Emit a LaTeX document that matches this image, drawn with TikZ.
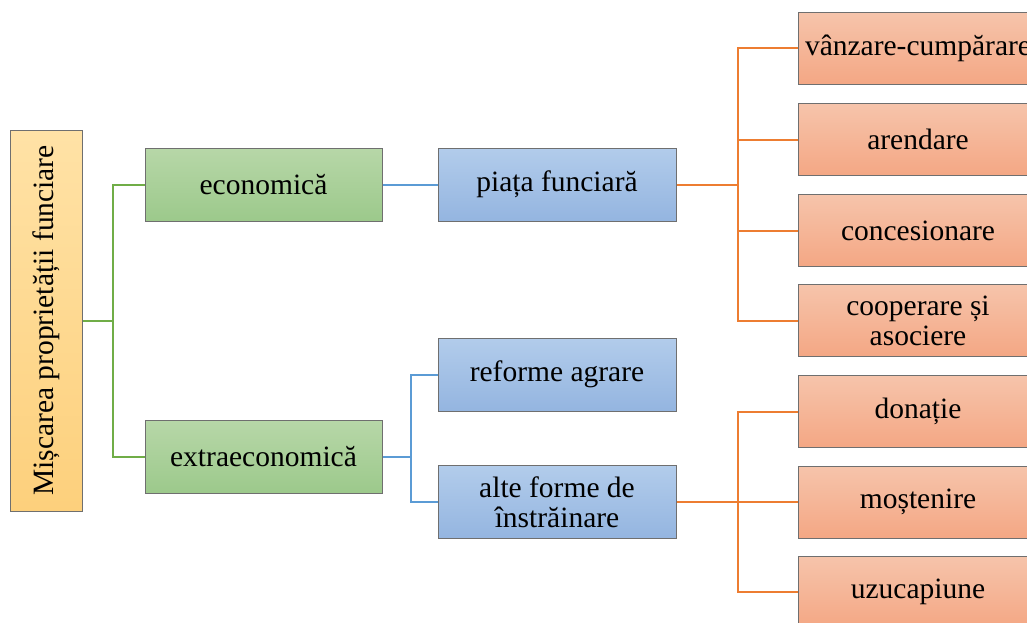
\documentclass[tikz,border=0pt]{standalone}
\usepackage{fontspec}
\setmainfont{Liberation Serif}
\definecolor{gtop}{HTML}{B7D7A8}
\definecolor{gbot}{HTML}{9CC98B}
\definecolor{btop}{HTML}{B2CCEB}
\definecolor{bbot}{HTML}{94B5E0}
\definecolor{otop}{HTML}{F6C4AB}
\definecolor{obot}{HTML}{F4A784}
\definecolor{ytop}{HTML}{FFE2A6}
\definecolor{ybot}{HTML}{FDD07C}
\definecolor{edge}{HTML}{6F6F6F}
\definecolor{lgreen}{HTML}{70AD47}
\definecolor{lblue}{HTML}{5B9BD5}
\definecolor{lorange}{HTML}{ED7D31}
\begin{document}
\begin{tikzpicture}[x=1pt,y=-1pt,
  box/.style={draw=edge,line width=1pt,rectangle,align=center,inner sep=2pt,
    font=\fontsize{29.5}{30}\selectfont},
  gbox/.style={box,top color=gtop,bottom color=gbot,minimum width=237pt,minimum height=73pt},
  bbox/.style={box,top color=btop,bottom color=bbot,minimum width=238pt,minimum height=73pt},
  obox/.style={box,top color=otop,bottom color=obot,minimum width=240pt,minimum height=72pt},
  ybox/.style={box,top color=ytop,bottom color=ybot,minimum width=72pt,minimum height=381pt},
  gline/.style={draw=lgreen,line width=2pt},
  bline/.style={draw=lblue,line width=2pt},
  oline/.style={draw=lorange,line width=2pt}]
\useasboundingbox (0,0) rectangle (1027,623);
% connectors first
\coordinate (j1) at (113,320.5);
\coordinate (j2) at (411,457);
\coordinate (j3) at (738,184.5);
\coordinate (j4) at (738,502);
\node[ybox] (root) at (46,320.5) {};
\node[rotate=90,font=\fontsize{29.5}{30}\selectfont] (roottext) at (root.center) {Mișcarea proprietății funciare};
\node[gbox] (econ) at (263.5,184.5) {economică};
\node[gbox] (extra) at (263.5,457) {extraeconomică};
\node[bbox] (piata) at (557,184.5) {piața funciară};
\node[bbox] (reforme) at (557,374.5) {reforme agrare};
\node[bbox] (alte) at (557,502) {alte forme de\\înstrăinare};
\node[obox] (vanz) at (918,48.5) {vânzare-cumpărare};
\node[obox] (arend) at (918,139.5) {arendare};
\node[obox] (conc) at (918,230.5) {concesionare};
\node[obox] (coop) at (918,320.5) {cooperare și\\asociere};
\node[obox] (don) at (918,411.5) {donație};
\node[obox] (most) at (918,502) {moștenire};
\node[obox] (uzu) at (918,592) {uzucapiune};
\draw[gline] (root.east) -- (j1);
\draw[gline] (j1) |- (econ.west);
\draw[gline] (j1) |- (extra.west);
\draw[bline] (econ.east) -- (piata.west);
\draw[bline] (extra.east) -- (j2);
\draw[bline] (j2) |- (reforme.west);
\draw[bline] (j2) |- (alte.west);
\draw[oline] (piata.east) -- (j3);
\draw[oline] (j3) |- (vanz.west);
\draw[oline] (j3) |- (arend.west);
\draw[oline] (j3) |- (conc.west);
\draw[oline] (j3) |- (coop.west);
\draw[oline] (alte.east) -- (j4);
\draw[oline] (j4) |- (don.west);
\draw[oline] (j4) |- (most.west);
\draw[oline] (j4) |- (uzu.west);
\end{tikzpicture}
\end{document}
